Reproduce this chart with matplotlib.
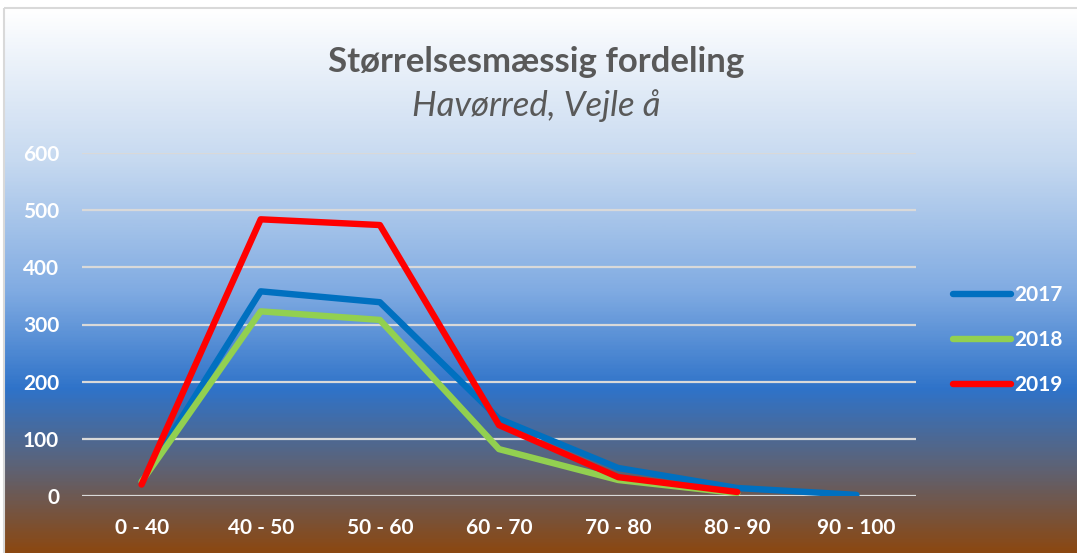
import numpy as np
import matplotlib.pyplot as plt
from matplotlib.colors import LinearSegmentedColormap
from matplotlib.patches import Rectangle

plt.rcParams['font.family'] = ['Lato', 'DejaVu Sans']

categories = ['0 - 40', '40 - 50', '50 - 60', '60 - 70', '70 - 80', '80 - 90', '90 - 100']
v2017 = [25, 358, 339, 135, 49, 14, 2]
v2018 = [25, 323, 308, 82, 28, 5]
v2019 = [20, 484, 474, 124, 33, 7]
yticks = [0, 100, 200, 300, 400, 500, 600]

W, H = 1077, 553
fig = plt.figure(figsize=(W / 100, H / 100), dpi=100)
fig.patch.set_facecolor('white')

# background gradient of the chart area
bg = fig.add_axes([0, 0, 1, 1], zorder=0)
bg.set_xlim(0, W)
bg.set_ylim(H, 0)
bg.axis('off')
grad = LinearSegmentedColormap.from_list('bg', [
    (0.0, '#ffffff'),
    (0.28, '#c6d9f0'),
    (0.52, '#80abe2'),
    (0.70, '#2f73c9'),
    (0.84, '#5c6378'),
    (1.0, '#8b4812'),
])
g = np.linspace(0, 1, 400).reshape(-1, 1)
bg.imshow(g, cmap=grad, aspect='auto', extent=(4, W, H, 8), zorder=0)
bg.add_patch(Rectangle((4, 8), W, H, fill=False, edgecolor='#d9d9d9', linewidth=1.5, zorder=1))

ax = fig.add_axes([82 / W, (H - 496) / H, (916 - 82) / W, (496 - 153) / H], zorder=2)
ax.patch.set_alpha(0)
x = np.arange(len(categories))
lw = 4.6
ax.plot(x[:len(v2017)], v2017, color='#0070c0', lw=lw, solid_capstyle='round', label='2017', zorder=3)
ax.plot(x[:len(v2018)], v2018, color='#92d050', lw=lw, solid_capstyle='round', label='2018', zorder=4)
ax.plot(x[:len(v2019)], v2019, color='#ff0000', lw=lw, solid_capstyle='round', label='2019', zorder=5)

ax.set_xlim(-0.5, len(categories) - 0.5)
ax.set_ylim(0, 600)
ax.set_yticks(yticks)
ax.set_xticks(x)
ax.set_xticklabels(categories)
for yv in yticks:
    ax.axhline(yv, color='#d9d9d9', lw=1.6, zorder=1)
for s in ax.spines.values():
    s.set_visible(False)
ax.tick_params(axis='both', length=0, colors='white', labelsize=15)
ax.tick_params(axis='y', pad=16.5)
ax.tick_params(axis='x', pad=16)
for t in ax.get_xticklabels() + ax.get_yticklabels():
    t.set_fontweight('bold')

leg = ax.legend(loc='center left', bbox_to_anchor=(953 / W, 1 - 340 / H),
                bbox_transform=fig.transFigure, frameon=False, borderpad=0,
                borderaxespad=0, handlelength=2.8, handletextpad=0.15,
                labelspacing=1.2, prop={'size': 15, 'weight': 'bold'})
for t in leg.get_texts():
    t.set_color('white')

fig.text(536 / W, 1 - 62 / H, 'Størrelsesmæssig fordeling', ha='center', va='center',
         fontsize=25, fontweight='bold', color='#595959')
fig.text(536 / W, 1 - 106 / H, 'Havørred, Vejle å', ha='center', va='center',
         fontsize=25, fontstyle='italic', color='#595959')

fig.savefig('out.png', dpi=100)
